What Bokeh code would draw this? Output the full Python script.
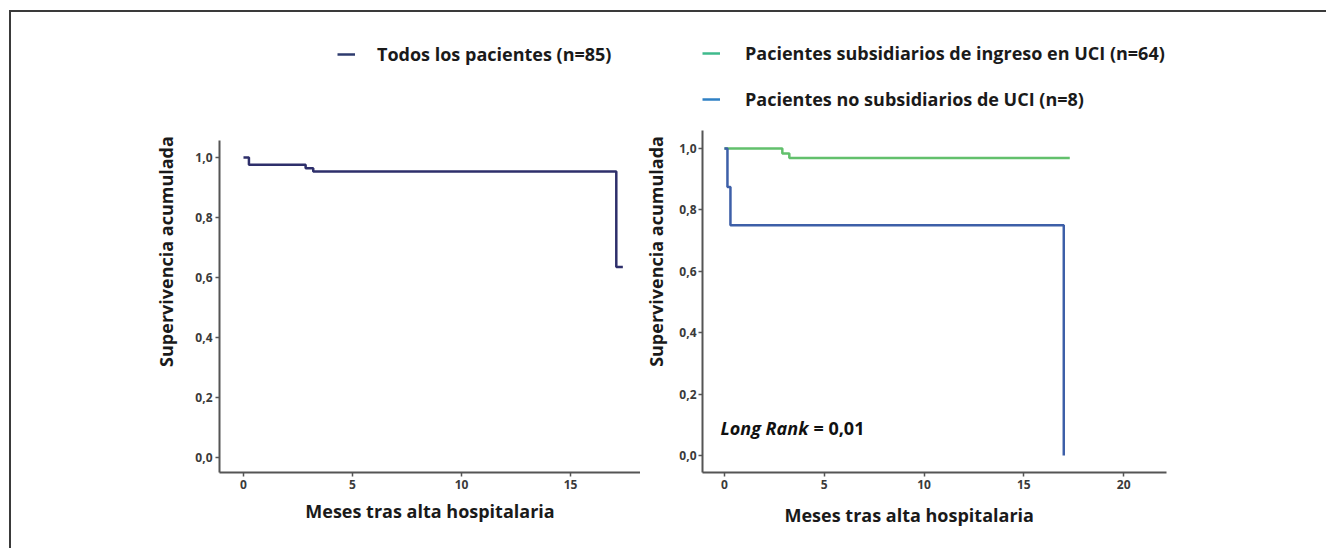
import numpy as np
from bokeh.plotting import figure
from bokeh.layouts import row
from bokeh.models import (Range1d, FixedTicker, CustomJSTickFormatter, Legend,
                          LegendItem, Label, Title)
from bokeh.embed import file_html
from bokeh.resources import INLINE

# ---------------- data ----------------
all_t = [0.0, 0.25, 2.85, 3.2, 17.1, 17.4]
all_s = [1.0, 0.976, 0.964, 0.953, 0.635, 0.635]

uci_t = [0.0, 2.9, 3.25, 17.3]
uci_s = [1.0, 0.984, 0.969, 0.969]

nouci_t = [0.0, 0.15, 0.3, 17.0]
nouci_s = [1.0, 0.875, 0.75, 0.0]

label_all = "Todos los pacientes (n=85)"
label_uci = "Pacientes subsidiarios de ingreso en UCI (n=64)"
label_nouci = "Pacientes no subsidiarios de UCI (n=8)"

y_ticks = [0.0, 0.2, 0.4, 0.6, 0.8, 1.0]
x_ticks_left = [0, 5, 10, 15]
x_ticks_right = [0, 5, 10, 15, 20]

y_label = "Supervivencia acumulada"
x_label = "Meses tras alta hospitalaria"
stat_name = "Long Rank"
stat_value = "= 0,01"

FONT = "Open Sans"
NAVY = "#2e2f6b"
GREEN = "#62c06c"
BLUE = "#3d5fa8"
LEG_GREEN = "#3fba8c"
LEG_BLUE = "#2f80c4"
LEG_NAVY = "#2e3b6e"

yfmt = CustomJSTickFormatter(code="return tick.toFixed(1).replace('.', ',')")
xfmt = CustomJSTickFormatter(code="return tick.toFixed(0)")


def style(p, xt, xbounds, ybounds, ylab_standoff, xlab):
    p.toolbar_location = None
    p.outline_line_color = None
    p.xgrid.grid_line_color = None
    p.ygrid.grid_line_color = None
    p.background_fill_color = "white"
    p.border_fill_color = "white"
    for ax in (p.xaxis[0], p.yaxis[0]):
        ax.axis_line_color = "#555555"
        ax.axis_line_width = 2
        ax.major_tick_line_color = "#555555"
        ax.major_tick_line_width = 1.5
        ax.major_tick_out = 4
        ax.major_tick_in = 0
        ax.minor_tick_line_color = None
        ax.major_label_text_font = FONT
        ax.major_label_text_font_style = "bold"
        ax.major_label_text_font_size = "12px"
        ax.major_label_text_color = "#3a3a3a"
        ax.major_label_standoff = 3
        ax.axis_label_text_font = FONT
        ax.axis_label_text_font_style = "bold"
        ax.axis_label_text_font_size = "18px"
        ax.axis_label_text_color = "#1a1a1a"
    p.yaxis[0].ticker = FixedTicker(ticks=y_ticks)
    p.yaxis[0].formatter = yfmt
    p.yaxis[0].bounds = ybounds
    p.xaxis[0].ticker = FixedTicker(ticks=xt)
    p.xaxis[0].formatter = xfmt
    p.xaxis[0].bounds = xbounds
    p.yaxis[0].axis_label = y_label
    if xlab:
        p.xaxis[0].axis_label = x_label
    p.yaxis[0].axis_label_standoff = ylab_standoff
    p.xaxis[0].axis_label_standoff = 7


def make_legend(items, loc, standoff):
    return Legend(items=items, location=loc, padding=0, margin=0,
                  glyph_width=18, glyph_height=20, label_height=20,
                  label_standoff=standoff, spacing=22,
                  border_line_alpha=0, background_fill_alpha=0,
                  label_text_font=FONT, label_text_font_style="bold",
                  label_text_font_size="18px", label_text_color="#1a1a1a")


def legend_line(p, color):
    # legend-only renderer (a single NaN point draws nothing on the plot)
    return p.line(np.array([np.nan]), np.array([np.nan]), line_color=color, line_width=2.5)


# ---------------- left panel ----------------
p1 = figure(width=629, height=536, output_backend="svg", toolbar_location=None,
            x_range=Range1d(-1.1, 18.21), y_range=Range1d(-0.05, 1.4233),
            min_border_left=208, min_border_right=0, min_border_top=18,
            min_border_bottom=76)
style(p1, x_ticks_left, (-1.1, 18.21), (-0.05, 1.057), 14, True)
p1.step(all_t, all_s, mode="after", line_color=NAVY, line_width=2.5)
d1 = legend_line(p1, LEG_NAVY)
p1.add_layout(make_legend([LegendItem(label=label_all, renderers=[d1])],
                          (118, 406), 22), "center")

# ---------------- right panel ----------------
p2 = figure(width=686, height=536, output_backend="svg", toolbar_location=None,
            x_range=Range1d(-1.1, 23.85), y_range=Range1d(-0.0554, 1.3844),
            min_border_left=62, min_border_right=126, min_border_top=18,
            min_border_bottom=76)
style(p2, x_ticks_right, (-1.1, 22.14), (-0.0554, 1.059), 8, False)
p2.yaxis[0].major_label_standoff = 2
p2.step(uci_t, uci_s, mode="after", line_color=GREEN, line_width=2.5)
p2.step(nouci_t, nouci_s, mode="after", line_color=BLUE, line_width=2.5)
d2 = legend_line(p2, LEG_GREEN)
d3 = legend_line(p2, LEG_BLUE)
p2.add_layout(make_legend([LegendItem(label=label_uci, renderers=[d2]),
                           LegendItem(label=label_nouci, renderers=[d3])],
                          (0, 361), 25), "center")
# x-axis title of the right panel (sits left of the frame's centre, as in the original)
p2.add_layout(Title(text=x_label, align="left", offset=77, standoff=9, padding=5,
                    text_font=FONT, text_font_style="bold", text_font_size="18px",
                    text_color="#1a1a1a"), "below")

p2.add_layout(Label(x=-0.2, y=0.088, text=stat_name, text_font=FONT,
                    text_font_style="bold italic", text_font_size="18px",
                    text_color="#111111", text_baseline="alphabetic"))
p2.add_layout(Label(x=-0.2, y=0.088, x_offset=93, text=stat_value, text_font=FONT,
                    text_font_style="bold", text_font_size="18px",
                    text_color="#111111", text_baseline="alphabetic"))

layout = row(p1, p2, margin=(10, 0, 0, 9),
             styles={"border-top": "2px solid #3a3a3a",
                     "border-left": "2px solid #3a3a3a"})

open("out.html", "w").write(file_html(layout, INLINE))
